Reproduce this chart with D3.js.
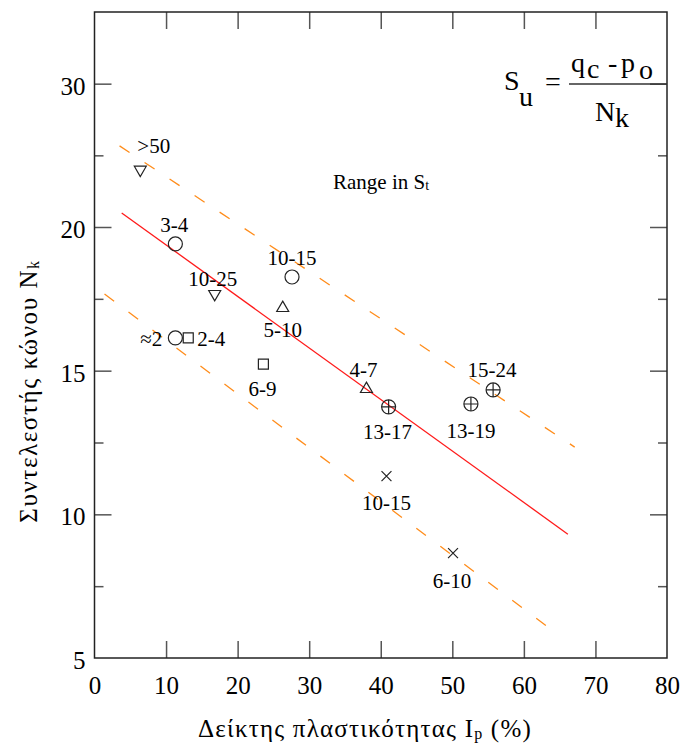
<!DOCTYPE html>
<html>
<head>
<meta charset="utf-8">
<script src="https://cdn.jsdelivr.net/npm/d3@7"></script>
<style>
body { margin: 0; background: #fff; }
svg text { font-family: "Liberation Serif", "Times New Roman", serif; fill: #000; }
</style>
</head>
<body>
<svg width="682" height="748"></svg>
<script>
// values
var plasticity = [6.4, 11.3, 16.8, 27.6, 26.3, 11.3, 13.1, 23.6, 38.0, 41.1, 52.6, 55.7, 40.8, 50.1];
var coneFactor = [24.0, 19.41, 17.67, 18.26, 17.18, 16.14, 16.14, 15.23, 14.36, 13.74, 13.84, 14.33, 11.33, 8.65];
var stRange = ['>50', '3-4', '10-25', '10-15', '5-10', '≈2', '2-4', '6-9', '4-7', '13-17', '13-19', '15-24', '10-15', '6-10'];
var marker = ['triDown', 'circle', 'triDown', 'circle', 'triUp', 'circle', 'square', 'square', 'triUp',
    'circlePlus', 'circlePlus', 'circlePlus', 'times', 'times'];

var trendIp = [3.8, 66.15];
var trendNk = [20.98, 9.31];
var upperIp = [3.5, 67.1];
var upperNk = [25.66, 12.34];
var lowerIp = [1.4, 64.3];
var lowerNk = [17.67, 5.9];

var xTicks = [0, 10, 20, 30, 40, 50, 60, 70, 80];
var yMajor = [5, 10, 15, 20, 30];
var yMinor = [7.5, 12.5, 17.5, 25];

// label placement: [anchor, dx, dy]
var labelPos = [
    ['start', -3, -17], ['middle', -1, -12], ['middle', -2, -8], ['middle', 0, -12],
    ['middle', 0, 29], ['end', -13, 8], ['start', 9, 8], ['middle', -1, 32],
    ['middle', -3, -12], ['middle', -1, 32], ['middle', 0, 34], ['middle', -1, -13],
    ['middle', 0, 34], ['middle', -1, 35]
];

var svg = d3.select('svg');
var plotL = 94.5, plotR = 667, plotT = 12, plotB = 658;

var x = d3.scaleLinear().domain([0, 80]).range([plotL, plotR]);
// the printed axis has equal steps 5,10,15,20,30
var y = d3.scaleLinear().domain([5, 20, 35]).range([plotB, 227, plotT]);

function styleAxis(g, size) {
    g.select('.domain').remove();
    g.attr('font-family', null).attr('font-size', size);
    g.selectAll('.tick line').attr('stroke', '#555').attr('stroke-width', 1.5);
    g.selectAll('.tick text').attr('fill', '#000');
}

// bottom / top
var gb = svg.append('g').attr('transform', 'translate(0,' + plotB + ')')
    .call(d3.axisBottom(x).tickValues(xTicks).tickSize(-17).tickPadding(18));
styleAxis(gb, 25);
gb.selectAll('.tick line').filter(d => d === 0 || d === 80).remove();

var gt = svg.append('g').attr('transform', 'translate(0,' + plotT + ')')
    .call(d3.axisTop(x).tickValues(xTicks.slice(1, -1)).tickSize(-17).tickFormat(''));
styleAxis(gt, 25);

// left / right
var gl = svg.append('g').attr('transform', 'translate(' + plotL + ',0)')
    .call(d3.axisLeft(y).tickValues(yMajor).tickSize(-17).tickPadding(9).tickFormat(d => d));
styleAxis(gl, 25);
gl.selectAll('.tick text').attr('dy', '0.42em');
gl.selectAll('.tick line').filter(d => d === 5).remove();

var glm = svg.append('g').attr('transform', 'translate(' + plotL + ',0)')
    .call(d3.axisLeft(y).tickValues(yMinor).tickSize(-9).tickFormat(''));
styleAxis(glm, 25);

var gr = svg.append('g').attr('transform', 'translate(' + plotR + ',0)')
    .call(d3.axisRight(y).tickValues(yMajor.slice(1)).tickSize(-17).tickFormat(''));
styleAxis(gr, 25);
var grm = svg.append('g').attr('transform', 'translate(' + plotR + ',0)')
    .call(d3.axisRight(y).tickValues(yMinor).tickSize(-9).tickFormat(''));
styleAxis(grm, 25);

// frame
svg.append('rect')
    .attr('x', plotL).attr('y', plotT)
    .attr('width', plotR - plotL).attr('height', plotB - plotT)
    .attr('fill', 'none').attr('stroke', '#222').attr('stroke-width', 1.5);

// lines
var line = d3.line().x(d => x(d[0])).y(d => y(d[1]));

svg.append('path')
    .attr('d', line(d3.zip(upperIp, upperNk)))
    .attr('fill', 'none').attr('stroke', '#ff8c1a').attr('stroke-width', 1.3)
    .attr('stroke-dasharray', '12,18');
svg.append('path')
    .attr('d', line(d3.zip(lowerIp, lowerNk)))
    .attr('fill', 'none').attr('stroke', '#ff8c1a').attr('stroke-width', 1.3)
    .attr('stroke-dasharray', '12,18');
svg.append('path')
    .attr('d', line(d3.zip(trendIp, trendNk)))
    .attr('fill', 'none').attr('stroke', '#ff1a1a').attr('stroke-width', 1.3);

// points
var points = plasticity.map((ip, i) => ({ ip: ip, nk: coneFactor[i], label: stRange[i], type: marker[i], pos: labelPos[i] }));

var symbolFor = {
    circle: d3.symbol(d3.symbolCircle, 154),
    triUp: d3.symbol(d3.symbolTriangle, 62),
    triDown: d3.symbol(d3.symbolTriangle, 62),
    square: d3.symbol(d3.symbolSquare, 100),
    times: d3.symbol(d3.symbolTimes, 66),
    circlePlus: d3.symbol(d3.symbolCircle, 154)
};

var pt = svg.append('g').selectAll('g')
    .data(points)
    .enter().append('g')
    .attr('transform', d => 'translate(' + x(d.ip) + ',' + y(d.nk) + ')');

pt.append('path')
    .attr('d', d => symbolFor[d.type]())
    .attr('transform', d => d.type === 'triDown' ? 'rotate(180)' : null)
    .attr('fill', 'none').attr('stroke', '#222').attr('stroke-width', 1.2);

pt.filter(d => d.type === 'circlePlus').append('path')
    .attr('d', d3.symbol(d3.symbolPlus, 66)())
    .attr('fill', 'none').attr('stroke', '#222').attr('stroke-width', 1.2);

pt.append('text')
    .attr('text-anchor', d => d.pos[0])
    .attr('x', d => d.pos[1])
    .attr('y', d => d.pos[2])
    .attr('font-size', 21)
    .text(d => d.label);

// "Range in St"
var rt = svg.append('text').attr('x', 333).attr('y', 189).attr('font-size', 21);
rt.append('tspan').text('Range in S');
rt.append('tspan').attr('font-size', 14).attr('dy', 1).text('t');

// formula
var fs = 28;
function ftext(t, px, py) {
    svg.append('text').attr('x', px).attr('y', py).attr('font-size', fs).text(t);
}
ftext('S', 504, 90);
ftext('u', 519, 106);
ftext('=', 545, 91);
ftext('q', 571, 72);
ftext('c', 587, 78);
ftext('-', 608, 72);
ftext('p', 621, 72);
ftext('o', 639, 79);
ftext('N', 595, 121);
ftext('k', 615, 127);
svg.append('line')
    .attr('x1', 569).attr('x2', plotR).attr('y1', 84).attr('y2', 84)
    .attr('stroke', '#333').attr('stroke-width', 1.5);

// axis titles
var xt = svg.append('text').attr('x', 365).attr('y', 737)
    .attr('text-anchor', 'middle').attr('font-size', 25).attr('letter-spacing', 1.2);
xt.append('tspan').text('Δείκτης πλαστικότητας I');
xt.append('tspan').attr('font-size', 16).attr('dy', 2).text('p');
xt.append('tspan').attr('dy', -2).text(' (%)');

var yt = svg.append('text')
    .attr('transform', 'translate(37,391) rotate(-90)')
    .attr('text-anchor', 'middle').attr('font-size', 25).attr('letter-spacing', 1.6);
yt.append('tspan').text('Συντελεστής κώνου N');
yt.append('tspan').attr('font-size', 16).attr('dy', 2).text('k');
</script>
</body>
</html>
